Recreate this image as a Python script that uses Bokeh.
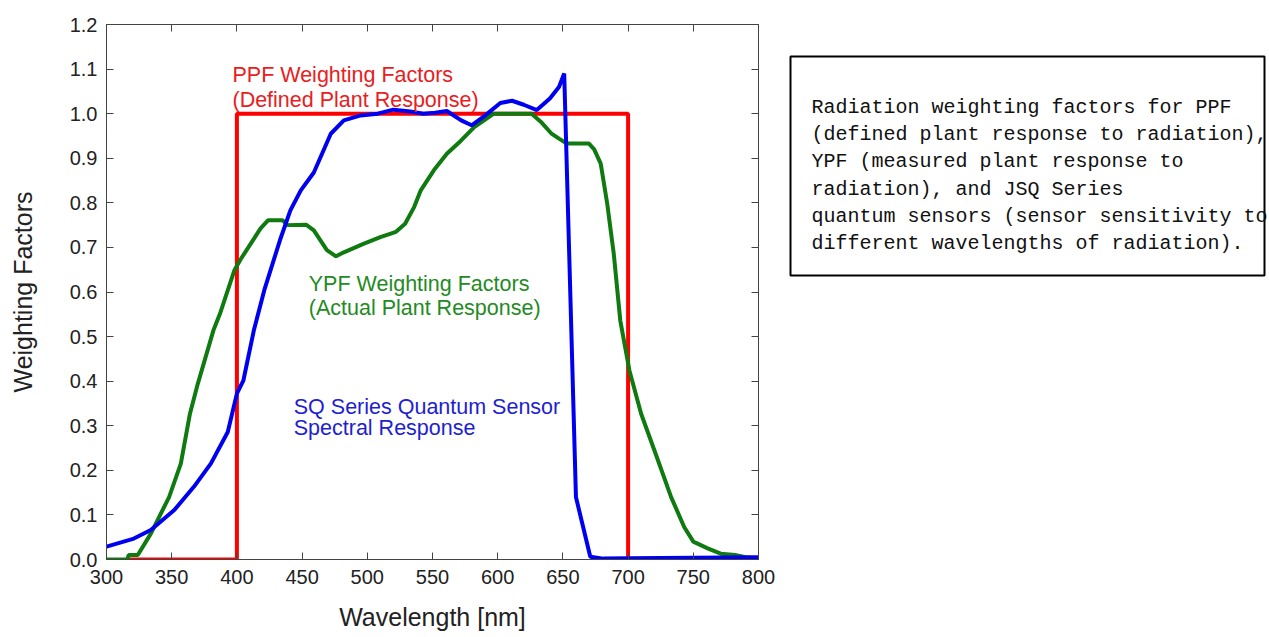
from bokeh.plotting import figure
from bokeh.models import (Range1d, LinearAxis, FixedTicker, PrintfTickFormatter,
                          CustomJSTickFormatter, CustomLabelingPolicy)
from bokeh.layouts import row
from bokeh.embed import file_html
from bokeh.resources import INLINE
from bokeh.core.properties import value

# ---------------- data ----------------
ppf_wl = [316, 400, 400, 700, 700, 780]
ppf_val = [0.0, 0.0, 1.0, 1.0, 0.0, 0.0]

ypf_wl = [300, 316, 317, 324, 334, 348, 357, 364, 370, 382, 387, 398, 403, 413, 418,
          424, 435, 439, 453, 459, 469, 476, 482, 497, 510, 522, 529, 536, 541, 551,
          561, 572, 582, 584, 597, 626, 633, 641, 647, 653, 670, 674, 679, 684, 689,
          694, 701, 710, 722, 733, 743, 750, 761, 771, 782, 790, 800]
ypf_val = [0.0, 0.0, 0.01, 0.01, 0.058, 0.14, 0.215, 0.327, 0.394, 0.514, 0.551, 0.648, 0.674, 0.719, 0.742,
           0.761, 0.761, 0.75, 0.751, 0.738, 0.694, 0.68, 0.689, 0.708, 0.723, 0.735, 0.753, 0.791, 0.828, 0.873,
           0.91, 0.94, 0.97, 0.974, 1.0, 1.0, 0.982, 0.956, 0.944, 0.933, 0.933, 0.92, 0.888, 0.798, 0.686,
           0.536, 0.424, 0.327, 0.23, 0.14, 0.073, 0.04, 0.025, 0.013, 0.01, 0.005, 0.003]

sq_wl = [300, 321, 334, 352, 367, 380, 393, 400, 405, 413, 421, 433, 441, 449, 459,
         472, 482, 495, 508, 520, 533, 543, 552, 561, 572, 580, 590, 602, 611, 620,
         630, 640, 647, 651, 660, 671, 681, 700, 800]
sq_val = [0.029, 0.047, 0.066, 0.111, 0.163, 0.215, 0.286, 0.372, 0.402, 0.514, 0.604, 0.716, 0.783, 0.828, 0.868,
          0.955, 0.985, 0.996, 1.0, 1.009, 1.005, 1.0, 1.002, 1.006, 0.985, 0.974, 0.995, 1.024, 1.029, 1.02,
          1.008, 1.034, 1.06, 1.09, 0.14, 0.006, 0.002, 0.003, 0.005]

x_ticks = [300, 350, 400, 450, 500, 550, 600, 650, 700, 750, 800]
y_ticks = [0.0, 0.1, 0.2, 0.3, 0.4, 0.5, 0.6, 0.7, 0.8, 0.9, 1.0, 1.1, 1.2]

ann_text = ["PPF Weighting Factors", "(Defined Plant Response)",
            "YPF Weighting Factors", "(Actual Plant Response)",
            "SQ Series Quantum Sensor", "Spectral Response"]
ann_x = [396.6, 396.6, 455.1, 455.1, 443.6, 443.6]
ann_y = [1.086, 1.030, 0.619, 0.563, 0.342, 0.294]
ann_color = ["#e8201e", "#e8201e", "#238b23", "#238b23", "#1e1ed2", "#1e1ed2"]

box_lines = ["Radiation weighting factors for PPF",
             "(defined plant response to radiation),",
             "YPF (measured plant response to",
             "radiation), and JSQ Series",
             "quantum sensors (sensor sensitivity to",
             "different wavelengths of radiation)."]
box_line_y = [98.3, 130.9, 163.5, 196.1, 228.7, 261.3]

# ---------------- main chart ----------------
FONT = "Liberation Sans"
AX = "#444444"
TXT = "#222222"

p = figure(width=778, height=637, x_range=Range1d(300, 800), y_range=Range1d(0, 1.2),
           output_backend="svg", toolbar_location=None,
           min_border_left=106, min_border_right=20, min_border_top=24, min_border_bottom=78,
           background_fill_color="white", border_fill_color="white")
p.xgrid.visible = False
p.ygrid.visible = False
p.outline_line_color = AX


def style_axis(ax, ticks):
    ax.ticker = FixedTicker(ticks=ticks)
    ax.major_tick_in = 7
    ax.major_tick_out = 0
    ax.minor_tick_line_color = None
    ax.axis_line_color = AX
    ax.major_tick_line_color = AX
    ax.major_label_text_font = FONT
    ax.major_label_text_color = TXT
    ax.major_label_text_font_size = "20px"


xa = p.xaxis[0]
style_axis(xa, x_ticks)
xa.major_label_standoff = 10
xa.axis_label = "Wavelength [nm]"
xa.axis_label_text_font = FONT
xa.axis_label_text_font_size = "25px"
xa.axis_label_text_font_style = "normal"
xa.axis_label_text_color = TXT
xa.axis_label_standoff = 16

ya = p.yaxis[0]
style_axis(ya, y_ticks)
ya.formatter = PrintfTickFormatter(format="%.1f")
ya.major_label_standoff = 9
ya.axis_label = "Weighting Factors"
ya.axis_label_text_font = FONT
ya.axis_label_text_font_size = "25px"
ya.axis_label_text_font_style = "normal"
ya.axis_label_text_color = TXT
ya.axis_label_standoff = 30

no_labels = CustomLabelingPolicy(code="""
    for (const i of indices)
        indices.unset(i)
    return indices
""")

for loc, ticks in (("above", x_ticks), ("right", y_ticks)):
    ax = LinearAxis()
    style_axis(ax, ticks)
    ax.formatter = CustomJSTickFormatter(code="return ''")
    ax.major_label_policy = no_labels
    ax.major_label_standoff = 0
    p.add_layout(ax, loc)

p.line(ppf_wl, ppf_val, line_color="#ff0000", line_width=4)
p.line(ypf_wl, ypf_val, line_color="#0f7a0f", line_width=4)
p.line(sq_wl, sq_val, line_color="#0000f0", line_width=4)

p.text(x=ann_x, y=ann_y, text=ann_text, text_color=ann_color,
       text_font=value(FONT), text_font_size="21.5px", text_baseline="alphabetic", text_align="left")

# ---------------- caption box ----------------
W2 = 1269 - 778
p2 = figure(width=W2, height=637, x_range=Range1d(0, W2), y_range=Range1d(637, 0),
            x_axis_type=None, y_axis_type=None, output_backend="svg", toolbar_location=None,
            min_border=0, outline_line_color=None,
            background_fill_color="white", border_fill_color="white")
p2.xgrid.visible = False
p2.ygrid.visible = False
p2.quad(left=[12], right=[486], top=[38], bottom=[299], fill_color=None,
        line_color="black", line_width=2)
p2.text(x=[33] * len(box_lines), y=box_line_y, text=box_lines, text_color="#111111",
        text_font=value("Liberation Mono"), text_font_size="20px",
        text_baseline="alphabetic", text_align="left")

layout = row(p, p2)
open("out.html", "w").write(file_html(layout, INLINE))
